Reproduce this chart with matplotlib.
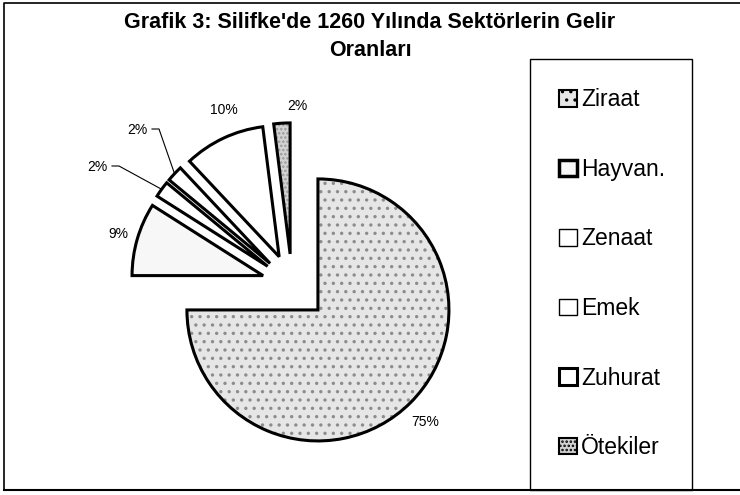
import numpy as np
import matplotlib
matplotlib.use('Agg')
import matplotlib.pyplot as plt
import matplotlib.patches as mpatches

plt.rcParams['font.family'] = ['Liberation Sans', 'DejaVu Sans']
plt.rcParams['hatch.linewidth'] = 1.2

# Veri
title_lines = ["Grafik 3: Silifke'de 1260 Yılında Sektörlerin Gelir", "Oranları"]
sectors = ['Ziraat', 'Hayvan.', 'Zenaat', 'Emek', 'Zuhurat', 'Ötekiler']
shares = [75, 9, 2, 2, 10, 2]

# Görünüm
faces = ['#e6e6e6', '#f7f7f7', 'white', 'white', 'white', '#d2d2d2']
hatches = ['..', '', '', '', '', '....']
hatch_cols = ['#8c8c8c', '#cfcfcf', 'white', 'white', 'white', '#9a9a9a']
explode = [0.28, 0.23, 0.23, 0.23, 0.23, 0.23]
legend_lw = [1.5, 2.5, 1.0, 1.0, 2.2, 1.5]

W, H = 740, 495          # piksel
R = 131.0                # pasta yarıçapı, piksel
center_px = (292, 284)
label_px = [(425, 422), (118, 234), (97, 167), (137, 130), (224, 110), (297, 106)]
leader = [False, False, True, True, False, False]


def px(x, y):
    # piksel (y aşağı) -> veri birimi
    return x / R, (H - y) / R


fig = plt.figure(figsize=(W / 100, H / 100), dpi=100)
ax = fig.add_axes([0, 0, 1, 1])

wedges, _ = ax.pie(shares, explode=explode, startangle=90, counterclock=False,
                   center=px(*center_px), radius=1, frame=True,
                   colors=faces, wedgeprops=dict(linewidth=0))
for w, h, hc in zip(wedges, hatches, hatch_cols):
    w.set_edgecolor(hc)
    w.set_hatch(h)
    w.set_linewidth(0)
    ax.add_patch(mpatches.Wedge(w.center, w.r, w.theta1, w.theta2, facecolor='none',
                                edgecolor='black', linewidth=2.2, joinstyle='miter', zorder=3))

ax.set_xlim(0, W / R)
ax.set_ylim(0, H / R)
ax.axis('off')

# yüzde etiketleri
for w, v, (lx, ly), ld in zip(wedges, shares, label_px, leader):
    ax.text(*px(lx, ly), f'{v}%', ha='center', va='center', fontsize=10, zorder=4)
    if ld:
        tm = np.deg2rad((w.theta1 + w.theta2) / 2)
        ex = w.center[0] + w.r * np.cos(tm)
        ey = w.center[1] + w.r * np.sin(tm)
        sx, sy = px(lx + 15, ly - 1)
        kx, ky = px(lx + 22, ly - 1)
        ax.plot([sx, kx, ex], [sy, ky, ey], color='black', lw=0.8, zorder=4)

# başlık
ax.text(*px(370, 22), title_lines[0], ha='center', va='center', fontsize=15.5, fontweight='bold')
ax.text(*px(370, 50), title_lines[1], ha='center', va='center', fontsize=15.5, fontweight='bold')

# dış çerçeve
fx = [px(4, 490)[0], px(4, 3)[0], px(W, 3)[0]]
fy = [px(4, 490)[1], px(4, 3)[1], px(W, 3)[1]]
ax.plot(fx, fy, color='black', lw=1.2, clip_on=False)
ax.plot([px(4, 490)[0], px(W, 490)[0]], [px(4, 490)[1]] * 2, color='black', lw=1.5)

# lejant kutusu
bx0, by0 = px(530, 490)
bx1, by1 = px(692, 59)
ax.add_patch(mpatches.Rectangle((bx0, by0), bx1 - bx0, by1 - by0, facecolor='none',
                                edgecolor='black', linewidth=1.0))

handles = [mpatches.Patch(facecolor=f, edgecolor='black', hatch=h, linewidth=lw)
           for f, h, lw in zip(faces, hatches, legend_lw)]
ax.legend(handles, sectors, loc='upper left', bbox_to_anchor=px(548, 77),
          bbox_transform=ax.transData, frameon=False, fontsize=16.5,
          handlelength=0.75, handleheight=0.75, handletextpad=0.2,
          labelspacing=2.03, borderpad=0)

fig.savefig('out.png', dpi=100)
